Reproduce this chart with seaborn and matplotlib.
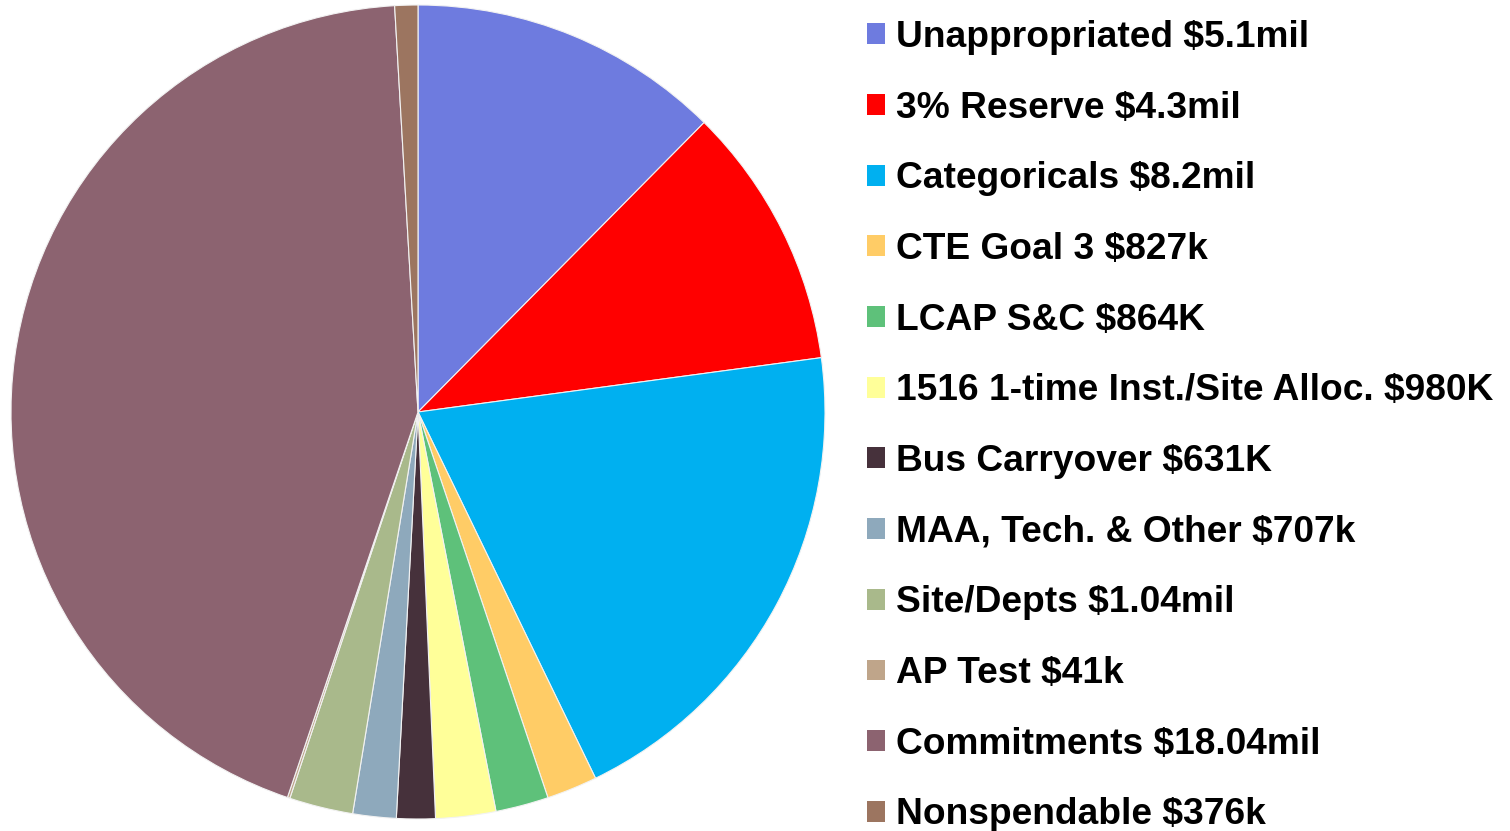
import matplotlib
matplotlib.use("Agg")
import matplotlib.pyplot as plt
import seaborn as sns

labels = ["Unappropriated $5.1mil", "3% Reserve $4.3mil", "Categoricals $8.2mil",
          "CTE Goal 3 $827k", "LCAP S&C $864K", "1516 1-time Inst./Site Alloc. $980K",
          "Bus Carryover $631K", "MAA, Tech. & Other $707k", "Site/Depts $1.04mil",
          "AP Test $41k", "Commitments $18.04mil", "Nonspendable $376k"]
values = [5.1, 4.3, 8.2, 0.827, 0.864, 0.980, 0.631, 0.707, 1.04, 0.041, 18.04, 0.376]
colors = ["#6E7BDF", "#FF0000", "#00B0F0", "#FFCC66", "#5EC17A", "#FFFF99",
          "#46313B", "#8EA9BC", "#A9B98B", "#BFA58A", "#8C6370", "#9C7560"]

sns.set_theme(style="white")
plt.rcParams['font.family'] = ['Liberation Sans', 'DejaVu Sans']
plt.rcParams['text.color'] = 'black'

fig = plt.figure(figsize=(15.10, 8.31), dpi=100)
ax = fig.add_axes([11/1510, 12/831, 814/1510, 814/831])
wedges, _ = ax.pie(values, colors=sns.color_palette(colors), startangle=90, counterclock=False,
                   radius=1, wedgeprops=dict(edgecolor="#F2F2F2", linewidth=0.8))
ax.set_xlim(-1, 1)
ax.set_ylim(-1, 1)
ax.set_aspect("equal")
ax.axis("off")

fs = 26.7
leg = fig.legend(wedges, labels, loc="upper left", bbox_to_anchor=(867/1510, 1 - 20/831),
                 frameon=False, prop=dict(weight="bold", size=fs),
                 handlelength=0.485, handleheight=0.485, handletextpad=0.30,
                 labelspacing=0.962, borderpad=0, borderaxespad=0, labelcolor="black")
for h in leg.legend_handles:
    h.set_edgecolor("none")

fig.savefig("out.png", dpi=100)
